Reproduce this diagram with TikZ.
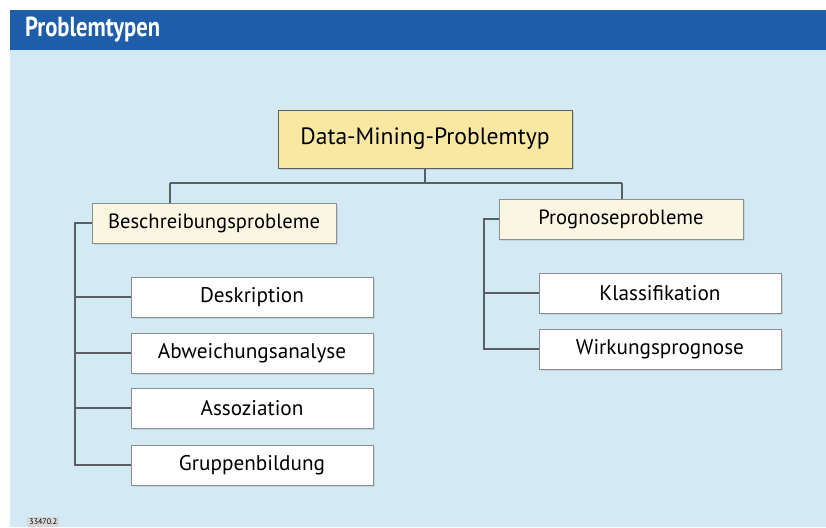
\documentclass[tikz,border=0pt]{standalone}
\usepackage{fontspec}
\setmainfont{PT Sans}
\newfontfamily\headfont[FakeStretch=0.82]{PT Sans}
\usepackage{xcolor}
\usetikzlibrary{positioning,calc,shadows}
\definecolor{bgblue}{HTML}{D3EAF4}
\definecolor{barblue}{HTML}{1E5DAA}
\definecolor{topyellow}{HTML}{F8E8A2}
\definecolor{midcream}{HTML}{FBF6E1}
\definecolor{linegray}{HTML}{5A5F66}
\tikzset{
  topbox/.style={rectangle, draw=linegray, fill=topyellow, align=center, minimum width=147pt, minimum height=29pt, font=\fontsize{11.8}{14}\selectfont, drop shadow={opacity=0.25, shadow xshift=1.2pt, shadow yshift=-1.2pt}},
  midbox/.style={rectangle, draw=linegray!70, fill=midcream, align=center, minimum width=122pt, minimum height=20pt, font=\fontsize{10.3}{12}\selectfont, drop shadow={opacity=0.2, shadow xshift=1pt, shadow yshift=-1pt}},
  leafbox/.style={rectangle, draw=linegray!70, fill=white, align=center, minimum width=121pt, minimum height=20pt, font=\fontsize{10.6}{12}\selectfont, drop shadow={opacity=0.2, shadow xshift=1pt, shadow yshift=-1pt}},
  conn/.style={draw=linegray, line width=0.8pt}
}
\begin{document}
\begin{tikzpicture}[x=0.5pt, y=-0.5pt]
% frame and header bar
\useasboundingbox (0,0) rectangle (826,527);
\fill[bgblue] (10,50) rectangle (826,527);
\fill[barblue] (10,10) rectangle (826,50);
\node[anchor=west, text=white, font=\headfont\fontsize{13.8}{16}\bfseries] (title) at (18,30) {Problemtypen};
\node[anchor=south west, inner sep=1pt, fill=linegray!25, font=\fontsize{4}{5}\selectfont] (ref) at (27,527) {33470.2};
% boxes
\node[topbox] (dmp) at (425,139) {Data-Mining-Problemtyp};
\node[midbox] (besch) at (214,223) {Beschreibungsprobleme};
\node[midbox] (progn) at (621,219) {Prognoseprobleme};
\node[leafbox] (desk) at (252,297) {Deskription};
\node[leafbox] (abw) at (252,353) {Abweichungsanalyse};
\node[leafbox] (asso) at (252,408) {Assoziation};
\node[leafbox] (grup) at (252,465) {Gruppenbildung};
\node[leafbox] (klass) at (660,293) {Klassifikation};
\node[leafbox] (wirk) at (660,349) {Wirkungsprognose};
% connectors
\coordinate (jl) at (170,183);
\coordinate (jr) at (622,183);
\coordinate (rl) at (75,0);
\coordinate (rr) at (484,0);
\draw[conn] (dmp.south) -- (dmp.south |- jl);
\draw[conn] (jl) -- (jr);
\draw[conn] (jl) -- (jl |- besch.north);
\draw[conn] (jr) -- (jr |- progn.north);
\draw[conn] (besch.west) -| (rl |- grup.west) -- (grup.west);
\foreach \n in {desk,abw,asso}
  \draw[conn] (rl |- \n.west) -- (\n.west);
\draw[conn] (progn.west) -| (rr |- wirk.west) -- (wirk.west);
\draw[conn] (rr |- klass.west) -- (klass.west);
\end{tikzpicture}
\end{document}
